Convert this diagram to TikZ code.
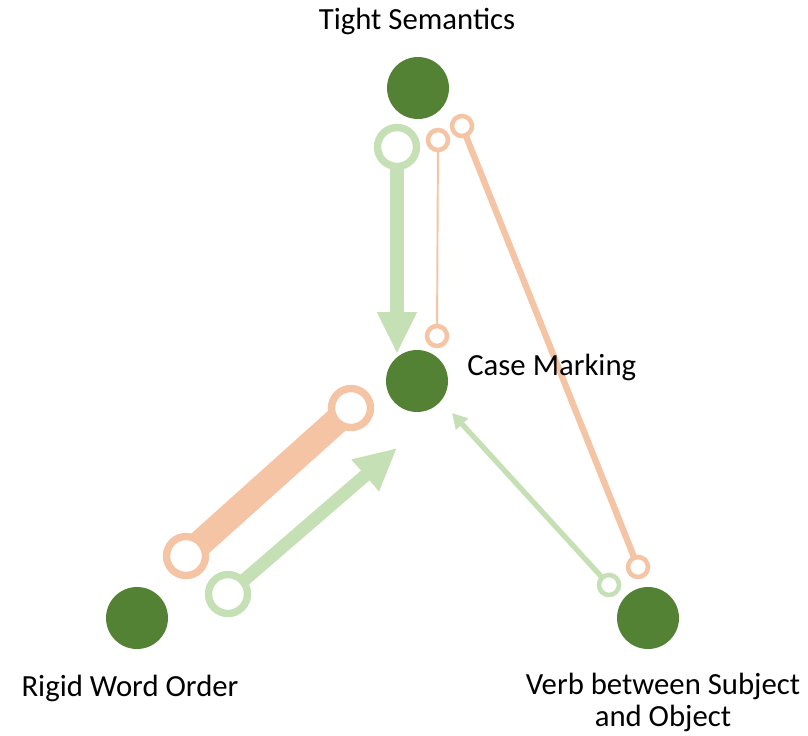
\documentclass[tikz,border=0pt]{standalone}
\usepackage{fontspec}
\setmainfont{Carlito}
\usepackage{xcolor}
\usetikzlibrary{arrows.meta}
\usetikzlibrary{positioning, backgrounds}

\definecolor{termgreen}{HTML}{548235}
\definecolor{palegreen}{HTML}{C5E0B4}
\definecolor{peach}{HTML}{F5C4A4}

\begin{document}
\begin{tikzpicture}[x=0.02cm, y=-0.02cm,
    term/.style={circle, fill=termgreen, minimum size=1.24cm, inner sep=0pt},
    lbl/.style={font=\fontsize{17.5}{18.2}\selectfont, inner sep=0pt, align=center},
    bigring/.style={circle, draw=#1, fill=white, line width=4.2pt, minimum size=0.78cm, inner sep=0pt},
    smallring/.style={circle, draw=#1, fill=white, line width=2.6pt, minimum size=0.4cm, inner sep=0pt}]
    \useasboundingbox (0,0) rectangle (808,735);

    % the four terms
    \node[term] (ts) at (418,88) {};
    \node[term] (cm) at (417,381) {};
    \node[term] (rw) at (137,618) {};
    \node[term] (vb) at (648,618) {};
    \node[lbl] (tsl) at (417,21) {Tight Semantics};
    \node[lbl, anchor=west] (cml) at (467,367) {Case Marking};
    \node[lbl] (rwl) at (130,688) {Rigid Word Order};
    \node[lbl] (vbl) at (663,702) {Verb between Subject\\and Object};

    % ring ends
    \node[bigring=palegreen] (g1) at (397,147) {};
    \node[bigring=palegreen] (g2) at (228,594) {};
    \node[smallring=palegreen] (g3) at (609,585) {};
    \node[smallring=peach] (o1) at (438,140) {};
    \node[smallring=peach] (o2) at (437,336) {};
    \node[smallring=peach] (o3) at (462,126) {};
    \node[smallring=peach] (o4) at (638,567) {};
    \node[bigring=peach] (o5) at (351,408) {};
    \node[bigring=peach] (o6) at (186,556) {};
    \coordinate (t1) at (397,354);
    \coordinate (t2) at (397,448);
    \coordinate (t3) at (452,413);

    \begin{scope}[on background layer]
        \draw[palegreen, line width=8.5pt, -{Triangle[length=0.84cm, width=0.74cm]}] (g1.center) -- (t1);
        \draw[palegreen, line width=7.4pt, -{Triangle[length=0.84cm, width=0.78cm]}] (g2.center) -- (t2);
        \draw[palegreen, line width=3pt, -{Triangle[length=0.3cm, width=0.32cm]}] (g3.center) -- (t3);
        \draw[peach, line width=1.1pt] (o1.center) -- (o2.center);
        \draw[peach, line width=3.6pt] (o3.center) -- (o4.center);
        \draw[peach, line width=15pt] (o5.center) -- (o6.center);
    \end{scope}
\end{tikzpicture}
\end{document}
